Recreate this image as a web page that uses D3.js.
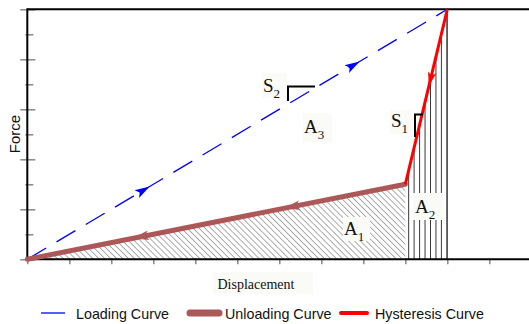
<!DOCTYPE html>
<html><head><meta charset="utf-8">
<script src="https://cdn.jsdelivr.net/npm/d3@7"></script>
<style>
html,body{margin:0;padding:0;background:#fff;}
svg{display:block;}
</style></head>
<body>
<svg id="c" width="529" height="324"></svg>
<script>
// ---- data ----
const xTickValues = [0,1,2,3,4,5,6,7,8,9,10,11,12];
const yTickValues = [0,1,2,3,4,5,6,7,8,9,10];
const loadingCurve = [[0,0],[10,10]];
const unloadingCurve = [[9,3],[0,0]];
const hysteresisCurve = [[10,10],[9,3]];
const areaA1 = [[0,0],[9,3],[9,0]];
const areaA2 = [[9,0],[9,3],[10,10],[10,0]];
const a2Lines = [9.08,9.21,9.34,9.47,9.60,9.73,9.86,9.99];
const loadingArrows = [2.76, 7.76];
const unloadingArrows = [2.7, 6.3];
const hysteresisArrows = [7.2];
const legendItems = ["Loading Curve","Unloading Curve","Hysteresis Curve"];

const svg = d3.select("#c");
const x = d3.scaleLinear().domain([0,12]).range([27.3,531.3]);
const y = d3.scaleLinear().domain([0,10]).range([259.3,9.3]);
const line = d3.line().x(d=>x(d[0])).y(d=>y(d[1]));

const defs = svg.append("defs");
const pat = defs.append("pattern").attr("id","diag").attr("patternUnits","userSpaceOnUse")
  .attr("width",4.2).attr("height",4.2).attr("patternTransform","rotate(-45)");
pat.append("line").attr("x1",0).attr("y1",0).attr("x2",0).attr("y2",4.2)
  .attr("stroke","#333").attr("stroke-width",0.8);
defs.append("clipPath").attr("id","a2clip").append("path").attr("d",line(areaA2)+"Z");

// A1 hatch
svg.append("path").attr("d",line(areaA1)+"Z").attr("fill","url(#diag)");
// A2 vertical lines
svg.append("g").attr("clip-path","url(#a2clip)").selectAll("line").data(a2Lines).join("line")
  .attr("x1",d=>x(d)).attr("x2",d=>x(d)).attr("y1",y(0)).attr("y2",y(10))
  .attr("stroke","#222").attr("stroke-width",0.9);
svg.append("line").attr("x1",x(10)).attr("x2",x(10)).attr("y1",y(0)).attr("y2",y(10))
  .attr("stroke","#222").attr("stroke-width",0.9);

// axes
const xAxis = svg.append("g").attr("transform",`translate(0,${y(0)})`)
  .call(d3.axisBottom(x).tickValues(xTickValues).tickSize(5).tickFormat(""));
xAxis.select(".domain").remove();
xAxis.selectAll(".tick line").attr("stroke","#888").attr("stroke-width",1.5).attr("y1",-1);
const yAxis = svg.append("g").attr("transform",`translate(${x(0)},0)`)
  .call(d3.axisLeft(y).tickValues(yTickValues).tickSize(7).tickFormat(""));
yAxis.select(".domain").remove();
yAxis.selectAll(".tick line").attr("stroke","#888").attr("stroke-width",1.5)
  .attr("x1",d=>d%2===0?8:6).attr("x2",d=>d%2===0?-7:-2);

svg.append("line").attr("x1",x(0)).attr("x2",529).attr("y1",y(0)).attr("y2",y(0)).attr("stroke","#000").attr("stroke-width",2);
svg.append("line").attr("x1",x(0)).attr("x2",529).attr("y1",y(10)).attr("y2",y(10)).attr("stroke","#000").attr("stroke-width",2);
svg.append("line").attr("x1",x(0)).attr("x2",x(0)).attr("y1",y(10)-1).attr("y2",y(0)+1).attr("stroke","#000").attr("stroke-width",2);

// curves
svg.append("path").attr("d",line(loadingCurve)).attr("fill","none").attr("stroke","#0000ff")
  .attr("stroke-width",1.3).attr("stroke-dasharray","22,12");
svg.append("path").attr("d",line(unloadingCurve)).attr("fill","none").attr("stroke","#ad5858")
  .attr("stroke-width",5).attr("stroke-linecap","round");
svg.append("path").attr("d",line(hysteresisCurve)).attr("fill","none").attr("stroke","#ff0000")
  .attr("stroke-width",3);

function arrow(seg, t, color, size){
  const [p0,p1] = seg;
  const px = x(p0[0])+(x(p1[0])-x(p0[0]))*t, py = y(p0[1])+(y(p1[1])-y(p0[1]))*t;
  const ang = Math.atan2(y(p1[1])-y(p0[1]), x(p1[0])-x(p0[0]))*180/Math.PI;
  svg.append("path").attr("d",`M${size},0 L${-size},${-size*0.6} L${-size*0.55},0 L${-size},${size*0.6}Z`)
    .attr("fill",color).attr("transform",`translate(${px},${py}) rotate(${ang})`);
}
loadingArrows.forEach(v=>arrow(loadingCurve, v/10, "#0000ff", 7.5));
unloadingArrows.forEach(v=>arrow(unloadingCurve, (9-v)/9, "#ad5858", 8));
hysteresisArrows.forEach(v=>arrow(hysteresisCurve, (10-v)/7, "#ff0000", 7));

// slope markers
svg.append("path").attr("d",`M288,101 L288,86.5 L315,86.5`).attr("fill","none").attr("stroke","#000").attr("stroke-width",2);
svg.append("path").attr("d",`M415,137 L415,114.5 L423,114.5`).attr("fill","none").attr("stroke","#000").attr("stroke-width",2);

// labels
function lab(txt, sub, bx, by, bw, bh, tx, ty){
  svg.append("rect").attr("x",bx).attr("y",by).attr("width",bw).attr("height",bh).attr("fill","#fafaf7");
  const t = svg.append("text").attr("x",tx).attr("y",ty).attr("font-family","Liberation Serif, Times New Roman, serif")
    .attr("font-size",19).attr("fill","#111");
  t.append("tspan").text(txt);
  t.append("tspan").attr("font-size",13).attr("dy",6).text(sub);
}
lab("S","2",262,73,25,25,263,92);
lab("A","3",303,113,29,29,304,133);
lab("S","1",390,110,23,24,391,127);
lab("A","1",343,217,27,24,344,235);
lab("A","2",413,193,30,27,415,213);

svg.append("rect").attr("x",213).attr("y",272).attr("width",100).attr("height",22).attr("fill","#fafaf7");
svg.append("text").attr("x",256).attr("y",289).attr("text-anchor","middle")
  .attr("font-family","Liberation Serif, Times New Roman, serif").attr("font-size",14).attr("fill","#111").text("Displacement");
svg.append("text").attr("transform","translate(20,134) rotate(-90)").attr("text-anchor","middle")
  .attr("font-family","Liberation Sans, Arial, sans-serif").attr("font-size",15).attr("fill","#111").text("Force");

// legend
const leg = svg.append("g").attr("font-family","Liberation Sans, Arial, sans-serif").attr("font-size",14.3).attr("fill","#111");
const legX = [[41,65,76,"#0000ff",1.3,"butt"],[190,219,225,"#ad5858",7,"round"],[341,367,375,"#ff0000",4,"round"]];
legendItems.forEach((name,i)=>{
  const [a,b,tx,col,w,cap] = legX[i];
  leg.append("line").attr("x1",a).attr("x2",b).attr("y1",313).attr("y2",313).attr("stroke",col).attr("stroke-width",w).attr("stroke-linecap",cap);
  leg.append("text").attr("x",tx).attr("y",319).text(name);
});
</script>
</body></html>
